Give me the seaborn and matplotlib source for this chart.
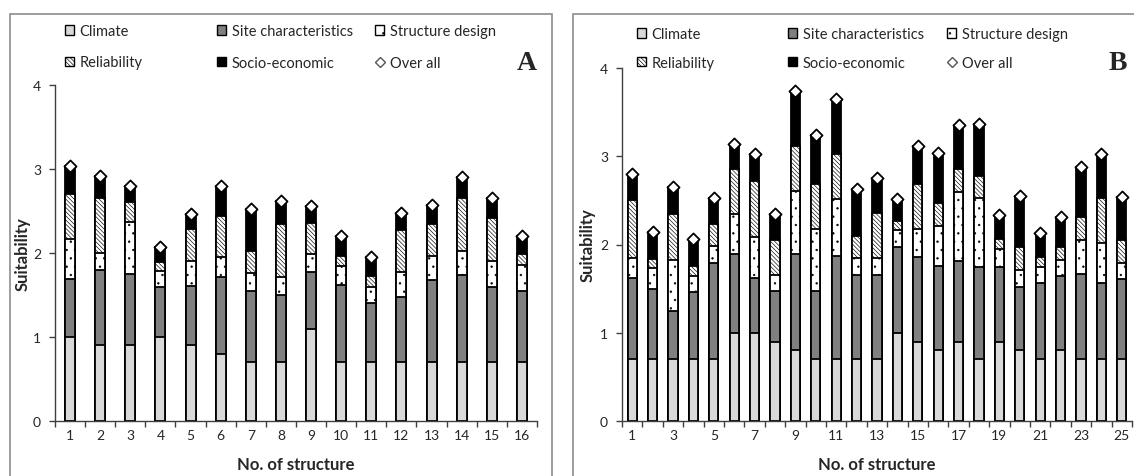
import numpy as np
import pandas as pd
import matplotlib
matplotlib.use('Agg')
import matplotlib.pyplot as plt
import matplotlib.patches as mpatches
from matplotlib.lines import Line2D
import seaborn as sns


# ── Panel A: 16 structures ───────────────────────────────────
A_STRUCTURES = ['1', '2', '3', '4', '5', '6', '7', '8',
                '9', '10', '11', '12', '13', '14', '15', '16']
A_CLIMATE = [1.00, 0.90, 0.90, 1.00, 0.90, 0.80, 0.70, 0.70,
             1.10, 0.70, 0.70, 0.70, 0.70, 0.70, 0.70, 0.70]
A_SITE = [0.69, 0.90, 0.85, 0.59, 0.71, 0.92, 0.85, 0.80,
          0.67, 0.92, 0.71, 0.78, 0.98, 1.04, 0.90, 0.85]
A_DESIGN = [0.48, 0.20, 0.62, 0.19, 0.29, 0.23, 0.21, 0.21,
            0.22, 0.23, 0.19, 0.29, 0.29, 0.28, 0.31, 0.31]
A_RELIABILITY = [0.53, 0.65, 0.24, 0.11, 0.39, 0.49, 0.26, 0.64,
                 0.37, 0.11, 0.13, 0.50, 0.38, 0.63, 0.51, 0.13]
A_SOCIO = [0.34, 0.27, 0.19, 0.18, 0.17, 0.36, 0.50, 0.27,
           0.20, 0.24, 0.22, 0.21, 0.22, 0.25, 0.23, 0.21]

# ── Panel B: 25 structures ───────────────────────────────────
B_STRUCTURES = ['1', '2', '3', '4', '5', '6', '7', '8', '9', '10',
                '11', '12', '13', '14', '15', '16', '17', '18', '19', '20',
                '21', '22', '23', '24', '25']
B_CLIMATE = [0.70, 0.70, 0.70, 0.70, 0.70, 1.00, 1.00, 0.90, 0.80, 0.70,
             0.70, 0.70, 0.70, 1.00, 0.90, 0.80, 0.90, 0.70, 0.90, 0.80,
             0.70, 0.80, 0.70, 0.70, 0.70]
B_SITE = [0.92, 0.80, 0.55, 0.76, 1.09, 0.89, 0.62, 0.57, 1.09, 0.77,
          1.17, 0.96, 0.96, 0.97, 0.96, 0.96, 0.91, 1.04, 0.85, 0.72,
          0.86, 0.84, 0.97, 0.86, 0.91]
B_DESIGN = [0.23, 0.23, 0.57, 0.18, 0.19, 0.45, 0.46, 0.19, 0.72, 0.71,
            0.64, 0.19, 0.19, 0.19, 0.32, 0.45, 0.79, 0.79, 0.20, 0.19,
            0.18, 0.19, 0.38, 0.46, 0.18]
B_RELIABILITY = [0.65, 0.11, 0.53, 0.12, 0.25, 0.51, 0.64, 0.39, 0.51, 0.51,
                 0.51, 0.25, 0.51, 0.11, 0.51, 0.26, 0.25, 0.25, 0.11, 0.26,
                 0.12, 0.14, 0.26, 0.51, 0.26]
B_SOCIO = [0.30, 0.30, 0.30, 0.30, 0.30, 0.29, 0.30, 0.30, 0.62, 0.55,
           0.63, 0.53, 0.39, 0.24, 0.43, 0.57, 0.50, 0.59, 0.27, 0.58,
           0.27, 0.34, 0.57, 0.49, 0.49]

FACTORS = ['Climate', 'Site characteristics', 'Structure design',
           'Reliability', 'Socio-economic']
STYLE = {
    'Climate': dict(color='#d9d9d9', hatch=None),
    'Site characteristics': dict(color='#808080', hatch=None),
    'Structure design': dict(color='white', hatch='..'),
    'Reliability': dict(color='white', hatch='\\' * 8),
    'Socio-economic': dict(color='black', hatch=None),
}

W, H = 1134, 477


def draw_panel(ax, structures, parts, bar_width, odd_labels_only):
    df = pd.DataFrame(dict(zip(FACTORS, parts)))
    cum = df.cumsum(axis=1)
    cum['structure'] = structures
    cum['total'] = df.sum(axis=1)

    # stacked bars: draw the tallest cumulative first, lower segments cover it
    for factor in reversed(FACTORS):
        st = STYLE[factor]
        sns.barplot(data=cum, x='structure', y=factor, order=structures,
                    ax=ax, width=bar_width, color=st['color'], saturation=1,
                    hatch=st['hatch'], edgecolor='black', linewidth=1.3,
                    errorbar=None)

    # "Over all" diamonds on top of each stack
    sns.scatterplot(data=cum, x='structure', y='total', ax=ax, marker='D',
                    s=38, color='white', edgecolor='black', linewidth=1.3,
                    zorder=5, legend=False)

    n = len(structures)
    ax.set_xlim(-0.5, n - 0.5)
    ax.set_ylim(0, 4)
    ax.set_yticks([0, 1, 2, 3, 4])
    labels = [s if (not odd_labels_only or i % 2 == 0) else ''
              for i, s in enumerate(structures)]
    ax.set_xticks(np.arange(n), labels=labels)
    ax.set_xticks(np.arange(-0.5, n, 1), minor=True)
    ax.tick_params(axis='x', which='major', length=0, pad=6, labelsize=10)
    ax.tick_params(axis='x', which='minor', length=4, width=1, color='#404040')
    ax.tick_params(axis='y', length=4, width=1, color='#404040', pad=6,
                   labelsize=10)
    sns.despine(ax=ax)
    for side in ['left', 'bottom']:
        ax.spines[side].set_color('#404040')
        ax.spines[side].set_linewidth(1.0)
    ax.set_xlabel('No. of structure', fontsize=12, fontweight='bold')
    ax.set_ylabel('Suitability', fontsize=12, fontweight='bold')


def add_legend(fig, col_x, top_y, spacing):
    def patch(f):
        st = STYLE[f]
        return mpatches.Patch(facecolor=st['color'], edgecolor='black',
                              hatch=st['hatch'], linewidth=1.0, label=f)

    overall = Line2D([], [], linestyle='none', marker='D', markersize=5.5,
                     markerfacecolor='white', markeredgecolor='#555555',
                     markeredgewidth=1.0, label='Over all')
    columns = [
        [patch('Climate'), patch('Reliability')],
        [patch('Site characteristics'), patch('Socio-economic')],
        [patch('Structure design'), overall],
    ]
    for x, handles in zip(col_x, columns):
        fig.legend(handles=handles, loc='upper left',
                   bbox_to_anchor=(x / W, 1 - top_y / H), frameon=False,
                   fontsize=10.5, handlelength=0.65, handleheight=0.65,
                   handletextpad=0.35, labelspacing=spacing, borderpad=0,
                   borderaxespad=0)


def main():
    sns.set_style('ticks')
    plt.rcParams['font.family'] = ['Lato', 'DejaVu Sans']
    plt.rcParams['hatch.linewidth'] = 0.45

    fig = plt.figure(figsize=(W / 100, H / 100), dpi=100)

    # ── Chart frames ──────────────────────────────────────────
    fig.patches.append(mpatches.Rectangle(
        (10 / W, -0.02), 542 / W, 1.02 - 15 / H, transform=fig.transFigure,
        fill=False, edgecolor='#8c8c8c', linewidth=1.2))
    fig.patches.append(mpatches.Rectangle(
        (573 / W, -0.02), 0.6, 1.02 - 15 / H, transform=fig.transFigure,
        fill=False, edgecolor='#8c8c8c', linewidth=1.2))

    # ── Panel A ───────────────────────────────────────────────
    ax_a = fig.add_axes([55 / W, 55 / H, 482 / W, 336 / H])
    draw_panel(ax_a, A_STRUCTURES,
               [A_CLIMATE, A_SITE, A_DESIGN, A_RELIABILITY, A_SOCIO],
               bar_width=0.33, odd_labels_only=False)
    ax_a.yaxis.set_label_coords(-0.051, 0.5)
    ax_a.xaxis.set_label_coords(0.5, -0.104)
    add_legend(fig, [65, 217, 375], 25, 1.2)
    fig.text(527 / W, 1 - 63 / H, 'A', fontsize=20, fontweight='bold',
             family='Liberation Serif', ha='center', va='center')

    # ── Panel B ───────────────────────────────────────────────
    ax_b = fig.add_axes([622 / W, 55 / H, 510 / W, 353 / H])
    draw_panel(ax_b, B_STRUCTURES,
               [B_CLIMATE, B_SITE, B_DESIGN, B_RELIABILITY, B_SOCIO],
               bar_width=0.46, odd_labels_only=True)
    ax_b.yaxis.set_label_coords(-0.051, 0.5)
    ax_b.xaxis.set_label_coords(0.5, -0.099)
    add_legend(fig, [637, 788, 947], 28, 1.0)
    fig.text(1118 / W, 1 - 63 / H, 'B', fontsize=20, fontweight='bold',
             family='Liberation Serif', ha='center', va='center')

    fig.savefig('out.png', dpi=100)
    plt.close(fig)


if __name__ == '__main__':
    main()
